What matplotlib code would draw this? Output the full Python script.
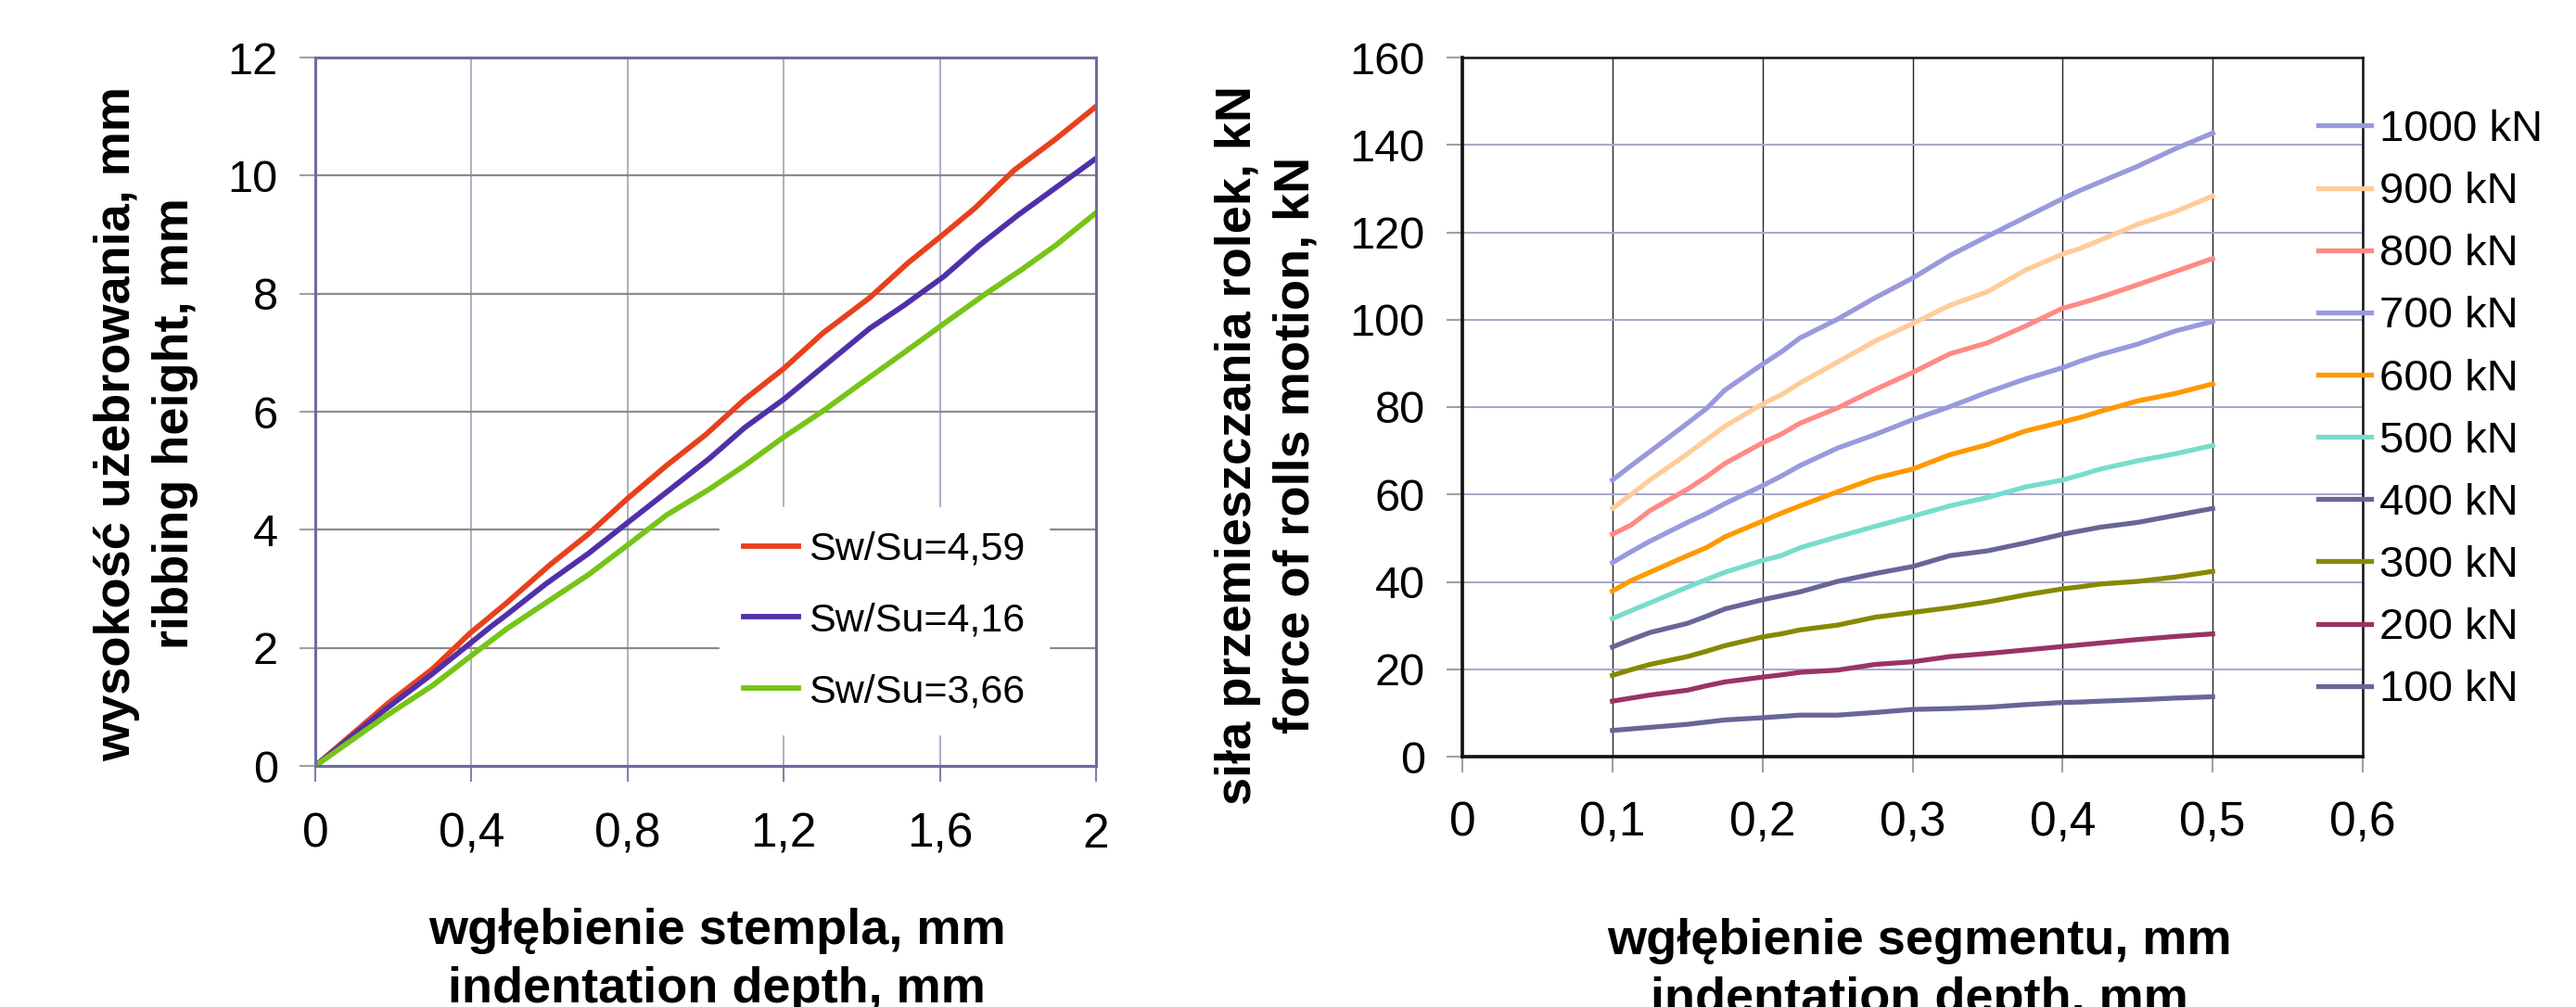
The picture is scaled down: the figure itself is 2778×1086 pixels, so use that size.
import matplotlib
matplotlib.use("Agg")
import matplotlib.pyplot as plt

# left chart: ribbing height vs punch indentation depth
red_x = [0, 0.19, 0.30, 0.395, 0.49, 0.60, 0.70, 0.80, 0.90, 1.00, 1.10, 1.20, 1.30, 1.42, 1.52, 1.61, 1.69, 1.79, 1.895, 2.0]
red_y = [0, 1.08, 1.64, 2.24, 2.76, 3.40, 3.93, 4.53, 5.09, 5.61, 6.21, 6.73, 7.33, 7.93, 8.53, 9.01, 9.45, 10.09, 10.61, 11.17]
blue_x = [0, 0.18, 0.30, 0.45, 0.49, 0.59, 0.70, 0.80, 0.91, 1.01, 1.10, 1.20, 1.31, 1.42, 1.51, 1.61, 1.70, 1.80, 1.90, 2.0]
blue_y = [0, 0.96, 1.56, 2.36, 2.56, 3.08, 3.60, 4.12, 4.69, 5.21, 5.73, 6.21, 6.81, 7.41, 7.81, 8.29, 8.81, 9.33, 9.81, 10.29]
green_x = [0, 0.18, 0.30, 0.41, 0.49, 0.59, 0.70, 0.79, 0.90, 1.01, 1.10, 1.20, 1.30, 1.40, 1.51, 1.61, 1.72, 1.81, 1.895, 2.0]
green_y = [0, 0.84, 1.36, 1.92, 2.32, 2.76, 3.24, 3.69, 4.25, 4.69, 5.09, 5.57, 6.01, 6.49, 7.01, 7.49, 8.01, 8.41, 8.81, 9.37]
left_labels = ["Sw/Su=4,59", "Sw/Su=4,16", "Sw/Su=3,66"]
left_colors = ["#e8401c", "#5030a8", "#77c418"]
left_xticks = [0, 0.4, 0.8, 1.2, 1.6, 2.0]
left_xticklabels = ["0", "0,4", "0,8", "1,2", "1,6", "2"]
left_yticks = [0, 2, 4, 6, 8, 10, 12]

# right chart: force of rolls motion vs segment indentation
seg_x = [0.1, 0.1125, 0.125, 0.15, 0.1625, 0.175, 0.2, 0.2125, 0.225, 0.25, 0.275,
         0.3, 0.325, 0.35, 0.375, 0.4, 0.4125, 0.425, 0.45, 0.475, 0.5]
f1000 = [63.3, 66.6, 69.8, 76.3, 79.6, 83.9, 89.8, 92.6, 95.8, 100.1, 105.0, 109.5, 114.7, 119.1, 123.4, 127.7, 129.7, 131.5, 135.1, 139.1, 142.7]
f900 = [56.8, 60.0, 63.3, 69.3, 72.5, 75.6, 80.7, 82.8, 85.5, 90.3, 95.1, 99.1, 103.3, 106.4, 111.3, 115.0, 116.4, 118.2, 121.8, 124.7, 128.3]
f800 = [50.9, 53.0, 56.3, 61.2, 64.0, 67.1, 71.8, 73.8, 76.3, 79.8, 84.0, 87.9, 92.2, 94.7, 98.5, 102.6, 103.8, 105.1, 108.0, 111.0, 114.0]
f700 = [44.4, 46.9, 49.3, 53.6, 55.6, 57.9, 62.0, 64.2, 66.6, 70.6, 73.7, 77.1, 80.1, 83.4, 86.4, 89.0, 90.6, 92.0, 94.4, 97.4, 99.6]
f600 = [37.9, 40.3, 42.2, 46.0, 47.8, 50.3, 53.9, 55.7, 57.4, 60.6, 63.7, 65.8, 69.1, 71.4, 74.5, 76.6, 77.7, 79.0, 81.4, 83.1, 85.3]
f500 = [31.6, 33.4, 35.2, 38.8, 40.5, 42.2, 44.9, 46.0, 47.8, 50.3, 52.7, 55.0, 57.4, 59.3, 61.7, 63.3, 64.5, 65.8, 67.7, 69.3, 71.2]
f400 = [25.1, 26.8, 28.4, 30.5, 32.1, 33.8, 35.9, 36.8, 37.7, 40.1, 41.9, 43.5, 46.0, 47.1, 48.9, 50.9, 51.7, 52.5, 53.6, 55.2, 56.8]
f300 = [18.6, 19.9, 21.1, 22.9, 24.1, 25.4, 27.4, 28.1, 29.0, 30.1, 31.9, 33.0, 34.1, 35.4, 37.0, 38.4, 38.9, 39.5, 40.1, 41.1, 42.4]
f200 = [12.7, 13.4, 14.1, 15.2, 16.2, 17.1, 18.2, 18.7, 19.3, 19.8, 21.1, 21.7, 22.9, 23.6, 24.4, 25.2, 25.6, 26.0, 26.8, 27.5, 28.1]
f100 = [6.0, 6.35, 6.7, 7.4, 7.9, 8.4, 8.9, 9.2, 9.5, 9.5, 10.1, 10.8, 11.0, 11.3, 11.9, 12.4, 12.5, 12.7, 13.0, 13.4, 13.7]
right_series = [f1000, f900, f800, f700, f600, f500, f400, f300, f200, f100]
right_labels = ["1000 kN", "900 kN", "800 kN", "700 kN", "600 kN", "500 kN", "400 kN", "300 kN", "200 kN", "100 kN"]
right_colors = ["#9999dd", "#ffcc99", "#ff8a84", "#9999dd", "#ff9900", "#77ddcc", "#666699", "#888800", "#993366", "#666699"]
right_xticks = [0, 0.1, 0.2, 0.3, 0.4, 0.5, 0.6]
right_xticklabels = ["0", "0,1", "0,2", "0,3", "0,4", "0,5", "0,6"]
right_yticks = [0, 20, 40, 60, 80, 100, 120, 140, 160]

W, H = 2778, 1086
plt.rcParams["font.family"] = ["Liberation Sans", "DejaVu Sans"]
LABEL_SIZE = 39
LINESP = 1.33

fig = plt.figure(figsize=(W / 100, H / 100), dpi=100)

# ---- left chart
ax1 = fig.add_axes([340 / W, 1 - 826 / H, 842 / W, 764 / H])
for xs, ys, lab, col in zip([red_x, blue_x, green_x], [red_y, blue_y, green_y], left_labels, left_colors):
    ax1.plot(xs, ys, color=col, lw=4.2, label=lab)
ax1.set_xlim(0, 2)
ax1.set_ylim(0, 12)
ax1.set_xticks(left_xticks)
ax1.set_xticklabels(left_xticklabels)
ax1.set_yticks(left_yticks)
ax1.grid(axis="y", color="#8a8a8a", lw=1.6)
ax1.grid(axis="x", color="#a0a0bc", lw=1.2)
ax1.set_axisbelow(True)
for s in ax1.spines.values():
    s.set_color("#6c6ca2")
    s.set_linewidth(2.2)
ax1.tick_params(axis="both", length=12, width=1.5)
ax1.tick_params(axis="x", pad=24, labelsize=37, color="#8080aa")
ax1.tick_params(axis="y", pad=17, labelsize=35, color="#a0a0a0")
leg1 = ax1.legend(loc="upper left", bbox_to_anchor=(776 / W, 1 - 547 / H),
                  bbox_transform=fig.transFigure, fontsize=31, frameon=True,
                  handlelength=1.37, handletextpad=0.26, labelspacing=0.85,
                  borderpad=0.6, borderaxespad=0, fancybox=False)
leg1.get_frame().set_facecolor("white")
leg1.get_frame().set_edgecolor("white")
leg1.get_frame().set_alpha(1)

fig.text(158 / W, 1 - 457 / H, "wysokość użebrowania, mm\nribbing height, mm",
         rotation=90, ha="center", va="center", ma="center", fontsize=LABEL_SIZE,
         fontweight="bold", linespacing=LINESP)
fig.text(773 / W, 1 - 979 / H, "wgłębienie stempla, mm\nindentation depth, mm",
         ha="center", va="top", ma="center", fontsize=LABEL_SIZE,
         fontweight="bold", linespacing=LINESP)

# ---- right chart
ax2 = fig.add_axes([1577 / W, 1 - 816 / H, 971 / W, 754 / H])
for ys, lab, col in zip(right_series, right_labels, right_colors):
    ax2.plot(seg_x, ys, color=col, lw=3.8, label=lab)
ax2.set_xlim(0, 0.6)
ax2.set_ylim(0, 160)
ax2.set_xticks(right_xticks)
ax2.set_xticklabels(right_xticklabels)
ax2.set_yticks(right_yticks)
ax2.grid(axis="y", color="#a8a8cc", lw=1.5)
ax2.grid(axis="x", color="#222222", lw=1.0)
ax2.set_axisbelow(True)
for name, s in ax2.spines.items():
    s.set_color("#111111")
    s.set_linewidth(2.6 if name in ("left", "bottom") else 1.8)
ax2.tick_params(axis="both", length=12, width=1.5, color="#a0a0a0")
ax2.tick_params(axis="x", pad=22, labelsize=37)
ax2.tick_params(axis="y", pad=17, labelsize=35)
leg2 = ax2.legend(loc="upper left", bbox_to_anchor=(2500 / W, 1 - 118 / H),
                  bbox_transform=fig.transFigure, fontsize=34, frameon=False,
                  handlelength=1.2, handletextpad=0.2, labelspacing=0.49,
                  borderpad=0, borderaxespad=0)

fig.text(1366 / W, 1 - 480 / H, "siła przemieszczania rolek, kN\nforce of rolls motion, kN",
         rotation=90, ha="center", va="center", ma="center", fontsize=LABEL_SIZE,
         fontweight="bold", linespacing=LINESP)
fig.text(2070 / W, 1 - 990 / H, "wgłębienie segmentu, mm\nindentation depth, mm",
         ha="center", va="top", ma="center", fontsize=LABEL_SIZE,
         fontweight="bold", linespacing=LINESP)

fig.savefig("out.png", dpi=100)
